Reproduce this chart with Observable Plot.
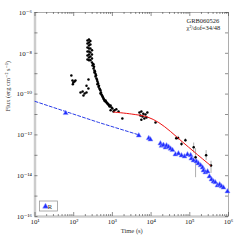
<!DOCTYPE html>
<html><head><meta charset="utf-8">
<script src="https://cdn.jsdelivr.net/npm/d3@7"></script>
<script src="https://cdn.jsdelivr.net/npm/@observablehq/plot@0.6"></script>
<style>body{margin:0;background:#fff}svg{display:block}</style>
</head><body><div id="chart"></div>
<script>
// ---- data (time in s, flux in erg cm^-2 s^-1) ----
const xrtEarly = [[87,8.1e-10],[93,4.7e-10],[98,3.7e-10],[105,4.2e-10],[95,3.0e-10],[111,4.7e-10],
  [150,1.2e-10],[170,1.35e-10],[192,1.07e-10],[179,8.5e-11],[214,1.2e-10],[240,1.9e-10],[241,5.2e-10],[214,2.6e-10]];
const xrtFlare = [[227,4.3e-8],[227,3.0e-8],[227,1.9e-8],[227,1.23e-8],[227,7.8e-9],[227,5.0e-9],
  [248,4.8e-8],[248,3.4e-8],[248,2.4e-8],[248,1.7e-8],[248,1.23e-8],[248,8.7e-9],[248,6.2e-9],[248,4.5e-9],
  [270,4.0e-8],[270,2.7e-8],[270,1.7e-8],[270,1.1e-8],[270,7.0e-9],[270,4.5e-9],
  [297,1.4e-8],[297,8.7e-9],[297,5.6e-9],[297,3.5e-9],
  [306,2.5e-9],[316,3.0e-9],[325,2.8e-9],[325,1.8e-9],[335,2.2e-9],[344,1.44e-9],[344,1.15e-9],[355,1.3e-9],
  [366,1.0e-9],[366,7.3e-10],[377,8.5e-10],[388,5.8e-10],[400,5.0e-10],[412,4.2e-10],[412,3.0e-10],
  [425,3.4e-10],[437,2.3e-10],[450,2.6e-10],[464,1.9e-10],[478,1.7e-10],[492,1.5e-10],[492,1.07e-10],
  [507,1.2e-10],[522,9.6e-11],[540,8.6e-11],[555,7.6e-11],[572,6.8e-11],[590,6.0e-11],[608,5.4e-11],
  [626,4.9e-11],[645,4.5e-11],[665,4.9e-11],[685,4.2e-11],[705,3.9e-11],[727,3.7e-11],[750,3.5e-11],
  [772,3.2e-11],[795,3.1e-11],[820,2.8e-11],[845,2.5e-11],[870,2.6e-11],[895,2.8e-11],[950,2.2e-11]];
const xrtPlateau = [[1000,1.95e-11],[1130,1.6e-11],[1260,1.8e-11],[1065,1.4e-11],[1440,1.4e-11],[900,1.6e-11],
  [1810,6.3e-12],[5000,1.26e-11],[5600,1.4e-11],[6300,1.1e-11],[7160,1.0e-11],[6000,7.9e-12],[6700,6.3e-12],
  [5600,5.6e-12],[7600,7.1e-12],[5300,8.9e-12],[8000,1.26e-11],[13000,4.0e-12]];
// [time, flux, low, high]
const xrtLate = [[44600,6.9e-13,5.5e-13,8.5e-13],[50000,7.0e-13,5.6e-13,8.6e-13],[61000,3.6e-13,2.7e-13,4.6e-13],
  [77000,5.4e-13,4.3e-13,6.6e-13],[126000,2.5e-13,1.3e-13,4.0e-13],[141000,8.1e-14,8e-15,2.1e-13],
  [264000,1.0e-13,5.6e-14,1.7e-13],[354000,3.2e-14,1.3e-14,5.1e-14]];
const rBand = [[62,1.17e-11],[4800,9.3e-13],[8700,6.9e-13],[9600,5.9e-13],[17400,3.8e-13],[18600,2.9e-13],
  [20800,3.2e-13],[23600,2.4e-13],[25000,3.0e-13],[28300,2.6e-13],[31800,2.1e-13],[35600,1.8e-13],
  [42600,1.1e-13],[51000,1.23e-13],[61000,9.8e-14],[73000,8.7e-14],[87000,1.1e-13],[105000,1.0e-13],
  [110000,6.9e-14],[125000,5.6e-14],[148000,5.0e-14],[166000,4.0e-14],[190000,3.2e-14],[214000,2.5e-14],
  [226000,1.8e-14],[253000,1.45e-14],[288000,1.6e-14],[322000,9.1e-15],[364000,6.5e-15],[410000,5.2e-15],
  [455000,4.7e-15],[520000,3.3e-15],[590000,3.7e-15],[660000,3.0e-15],[740000,2.6e-15],[940000,1.7e-15]];
const fitXrt = [[1070,1.32e-11],[3160,1.05e-11],[7940,7.6e-12],[15850,4.0e-12],[31600,1.48e-12],[63100,4.7e-13],[141000,1.29e-13],[340000,3.2e-14]];
const fitOptical = [[10,4.4e-11],[437,4.1e-12],[4470,1.05e-12]];
const xTicks = [1e1,1e2,1e3,1e4,1e5,1e6];
const yTicks = [1e-16,1e-14,1e-12,1e-10,1e-8,1e-6];
const yDecades = [1e-16,1e-15,1e-14,1e-13,1e-12,1e-11,1e-10,1e-9,1e-8,1e-7,1e-6];
const grbName = "GRB060526";
const chiText = "χ²/dof=34/48";
const legendLabel = "R";

// ---- derived ----
const xMinor = [];
for (let e = 1; e < 6; e++) for (let m = 2; m <= 9; m++) xMinor.push(m * 10 ** e);
const sup = {"-":"⁻","0":"⁰","1":"¹","2":"²","3":"³","4":"⁴","5":"⁵","6":"⁶","7":"⁷","8":"⁸","9":"⁹"};
const fmt = d => "10" + String(Math.round(Math.log10(d))).split("").map(c => sup[c]).join("");
const W = 240, H = 240, mL = 34.5, mR = 12, mT = 12, mB = 24;
const pw = W - mL - mR, ph = H - mT - mB;
const black = [...xrtEarly, ...xrtFlare, ...xrtPlateau, ...xrtLate.map(d => [d[0], d[1]])];
const font = "Liberation Serif, DejaVu Serif, serif";

const chart = Plot.plot({
  width: W, height: H,
  marginLeft: mL, marginRight: mR, marginTop: mT, marginBottom: mB,
  style: {fontFamily: font, fontSize: "7px", background: "#fff", color: "#222"},
  x: {type: "log", domain: [10, 1e6]},
  y: {type: "log", domain: [1e-16, 1e-6]},
  marks: [
    Plot.frame({stroke: "#999", strokeWidth: 0.8}),
    Plot.ruleX([10], {stroke: "#ccc", strokeWidth: 2.5}),
    Plot.ruleY([1e-16], {stroke: "#ccc", strokeWidth: 2.5}),
    Plot.ruleX(xTicks, {x: d => d, insetTop: ph - 4, stroke: "#444", strokeWidth: 0.6}),
    Plot.ruleX(xTicks, {x: d => d, insetBottom: ph - 4, stroke: "#444", strokeWidth: 0.6}),
    Plot.ruleX(xMinor, {x: d => d, insetTop: ph - 2, stroke: "#444", strokeWidth: 0.6}),
    Plot.ruleX(xMinor, {x: d => d, insetBottom: ph - 2, stroke: "#444", strokeWidth: 0.6}),
    Plot.ruleY(yDecades, {y: d => d, insetRight: pw - 3, stroke: "#444", strokeWidth: 0.6}),
    Plot.ruleY(yDecades, {y: d => d, insetLeft: pw - 3, stroke: "#444", strokeWidth: 0.6}),
    Plot.axisX({ticks: xTicks, tickFormat: fmt, tickSize: 0, tickPadding: 3, fontSize: 7, label: null}),
    Plot.axisY({ticks: yTicks, tickFormat: fmt, tickSize: 0, tickPadding: 3, fontSize: 7, label: null}),
    Plot.line(fitOptical, {x: "0", y: "1", stroke: "#2a3de8", strokeWidth: 1, strokeDasharray: "3,2"}),
    Plot.ruleX(xrtLate, {x: "0", y1: "2", y2: "3", stroke: "#999", strokeWidth: 0.8}),
    Plot.dot(rBand, {x: "0", y: "1", symbol: "triangle", r: 1.9, fill: "#1f2cff", stroke: "#8f99ff", strokeWidth: 0.5}),
    Plot.dot(black, {x: "0", y: "1", r: 1.25, fill: "#000"}),
    Plot.line(fitXrt, {x: "0", y: "1", stroke: "#ee1111", strokeWidth: 1, curve: "catmull-rom"}),
    Plot.text([grbName], {frameAnchor: "top-left", dx: 186 - mL, dy: 6, textAnchor: "start", fontSize: 6.5, fill: "#222"}),
    Plot.text([chiText], {frameAnchor: "top-left", dx: 186 - mL, dy: 13, textAnchor: "start", fontSize: 6.5, fill: "#222"}),
    Plot.text(["Flux (erg cm⁻² s⁻¹)"], {frameAnchor: "left", dx: -27, dy: -3, rotate: -90, fontSize: 6.5, fill: "#333"}),
    Plot.text(["Time (s)"], {frameAnchor: "bottom", dy: 16, fontSize: 6.5, fill: "#333"})
  ]
});
const svg = d3.select(chart);
const lg = svg.append("g").attr("transform", `translate(${mL + 5},${H - mB - 15})`);
lg.append("rect").attr("width", 18).attr("height", 10).attr("fill", "#fff").attr("stroke", "#999").attr("stroke-width", 0.8);
lg.append("path").attr("d", d3.symbol(d3.symbolTriangle, 14)()).attr("transform", "translate(6,5.5)")
  .attr("fill", "#1f2cff").attr("stroke", "#8f99ff").attr("stroke-width", 0.5);
lg.append("text").attr("x", 10.5).attr("y", 7.5).attr("font-size", 6.5).attr("font-family", font).attr("fill", "#222").text(legendLabel);
document.getElementById("chart").appendChild(chart);
</script>
</body></html>
